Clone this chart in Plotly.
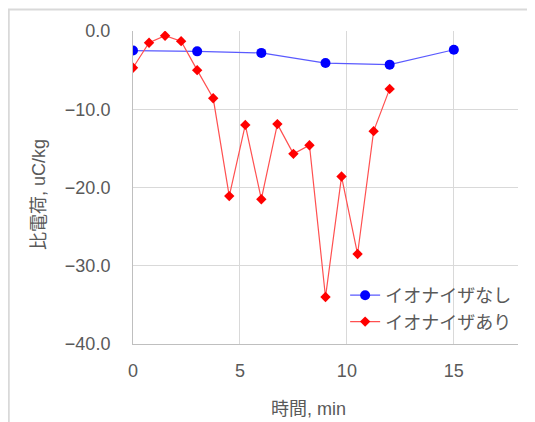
import plotly.graph_objects as go

x_none = [0, 3, 6, 9, 12, 15]
y_none = [-2.5, -2.6, -2.8, -4.1, -4.3, -2.4]
x_with = [0, 0.75, 1.5, 2.25, 3, 3.75, 4.5, 5.25, 6, 6.75, 7.5, 8.25, 9, 9.75, 10.5, 11.25, 12]
y_with = [-4.7, -1.5, -0.6, -1.3, -5.0, -8.6, -21.1, -12.0, -21.5, -11.9, -15.7, -14.6, -34.0, -18.6, -28.5, -12.8, -7.4]
name_none = "イオナイザなし"
name_with = "イオナイザあり"
x_title = "時間, min"
y_title = "比電荷, uC/kg"

FONT = "Liberation Sans, Arial, Noto Sans CJK JP, sans-serif"
GREY = "#595959"

fig = go.Figure()
fig.add_trace(go.Scatter(x=x_none, y=y_none, name=name_none, mode="lines+markers",
                         line=dict(color="#5a5aff", width=1.2),
                         marker=dict(symbol="circle", size=10, color="#0000ff")))
fig.add_trace(go.Scatter(x=x_with, y=y_with, name=name_with, mode="lines+markers",
                         line=dict(color="#ff5050", width=1.2),
                         marker=dict(symbol="diamond", size=8, color="#ff0000")))

fig.update_layout(
    width=535, height=422,
    margin=dict(l=125, r=25, t=23, b=86, autoexpand=False),
    paper_bgcolor="white", plot_bgcolor="white",
    font=dict(family=FONT, size=18, color=GREY),
    showlegend=True,
    legend=dict(x=0.551, y=0.214, xanchor="left", yanchor="top",
                bgcolor="rgba(255,255,255,0)", font=dict(size=18, color=GREY),
                itemwidth=30, tracegroupgap=0),
    shapes=[dict(type="rect", xref="paper", yref="paper", x0=-0.3227, x1=1.3, y0=-0.5, y1=1.0687,
                 line=dict(color="#d9d9d9", width=2), layer="below")],
    annotations=[
        dict(text=x_title, xref="paper", yref="paper", x=0.457, y=-0.208,
             xanchor="center", yanchor="middle", showarrow=False,
             font=dict(size=18, color=GREY)),
        dict(text=y_title, xref="paper", yref="paper", x=-0.244, y=0.476,
             xanchor="center", yanchor="middle", showarrow=False, textangle=-90,
             font=dict(size=18, color=GREY)),
    ],
)
fig.update_xaxes(range=[0, 18], tick0=0, dtick=5, showgrid=True, gridcolor="#d9d9d9",
                 showline=True, linecolor="#bfbfbf", linewidth=1, zeroline=False,
                 ticks="", ticklabelstandoff=10, automargin=False)
fig.update_yaxes(range=[-40, 0], tick0=0, dtick=10, tickformat=".1f", showgrid=True, gridcolor="#d9d9d9",
                 showline=True, linecolor="#bfbfbf", linewidth=1, zeroline=False,
                 ticks="", ticklabelstandoff=18, automargin=False)

fig.write_html("out.html")
